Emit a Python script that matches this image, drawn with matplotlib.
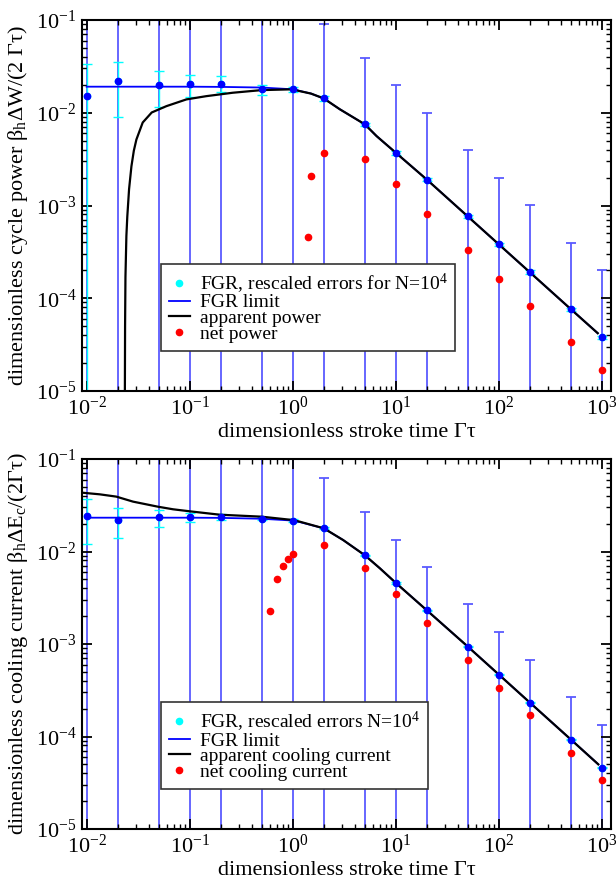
import numpy as np
import matplotlib
matplotlib.use('Agg')
import matplotlib.pyplot as plt
from matplotlib.ticker import LogLocator

plt.rcParams['font.family'] = ['Liberation Serif', 'DejaVu Serif']
plt.rcParams['mathtext.fontset'] = 'custom'
plt.rcParams['mathtext.rm'] = 'Liberation Serif'
plt.rcParams['mathtext.it'] = 'Liberation Serif:italic'

# stroke times of the simulated points
tau = [0.01, 0.02, 0.05, 0.1, 0.2, 0.5, 1, 2, 5, 10, 20, 50, 100, 200, 500, 1000]

# ---- top panel: cycle power ----
fgr_power = [0.0151, 0.0219, 0.0199, 0.0202, 0.0206, 0.0179, 0.0179, 0.01425, 0.00748, 0.0037,
             0.0019, 0.000765, 0.00038, 0.000192, 7.6e-5, 3.78e-5]
err_power_n4 = [0.0187, 0.013, 0.0085, 0.0053, 0.004, 0.0022, 0.0012, 0.00077, 0.00032, 0.00016,
                8e-5, 3.2e-5, 1.6e-5, 8e-6, 3.2e-6, 1.6e-6]
err_power_n1 = [1.8, 1.3, 0.85, 0.53, 0.4, 0.22, 0.12, 0.077, 0.0318, 0.016,
                0.008, 0.00318, 0.00162, 0.00081, 0.00032, 0.000162]

lim_power_x = [0.01, 0.1, 0.2, 0.5, 1, 1.5, 2, 2.86, 5, 6.5, 10, 20, 50, 100, 200, 500, 908]
lim_power = [0.0191, 0.0191, 0.019, 0.0187, 0.0179, 0.0161, 0.01425, 0.0109, 0.0075, 0.0056, 0.0037,
             0.0019, 0.00076, 0.00038, 0.00019, 7.6e-5, 4.2e-5]

app_power_x = [0.02345, 0.0236, 0.0238, 0.0243, 0.0248, 0.0258, 0.0272, 0.0287, 0.0304, 0.035, 0.0428,
               0.0594, 0.0929, 0.145, 0.261, 0.497, 1.0, 1.17, 1.5, 2, 2.86, 5, 6.5, 10, 20, 50,
               100, 200, 500, 908]
app_power = [5e-6, 5e-5, 1.7e-4, 4.7e-4, 7.6e-4, 1.5e-3, 2.65e-3, 3.9e-3, 5.15e-3, 7.85e-3, 0.01007,
             0.01178, 0.01393, 0.0151, 0.01643, 0.01754, 0.0179, 0.0171, 0.0161, 0.01425, 0.0109,
             0.0075, 0.0056, 0.0037, 0.0019, 0.00076, 0.00038, 0.00019, 7.6e-5, 4.2e-5]

net_power_x = [1.4, 1.5, 2, 5, 10, 20, 50, 100, 200, 500, 1000]
net_power = [4.58e-4, 0.0021, 0.00372, 0.00318, 0.00171, 0.000813, 0.000331, 0.000162,
             8.24e-5, 3.39e-5, 1.68e-5]

# ---- bottom panel: cooling current ----
fgr_cool = [0.0244, 0.0217, 0.0234, 0.0236, 0.0237, 0.0227, 0.0216, 0.0178, 0.0091, 0.00457,
            0.00231, 0.000935, 0.000466, 0.000232, 9.25e-5, 4.6e-5]
err_cool_n4 = [0.0122, 0.0078, 0.005, 0.0026, 0.002, 0.001, 0.0007, 0.00045, 0.000178, 8.9e-5,
               4.4e-5, 1.76e-5, 8.7e-6, 4.3e-6, 1.7e-6, 8.7e-7]
err_cool_n1 = [1.22, 0.78, 0.5, 0.26, 0.2, 0.15, 0.1, 0.045, 0.0178, 0.00886,
               0.00444, 0.00176, 0.00087, 0.000434, 0.000173, 8.7e-5]

lim_cool_x = [0.01, 0.1, 0.2, 0.5, 1, 1.17, 2, 3.08, 5, 7, 10, 20, 50, 100, 200, 500, 920]
lim_cool = [0.0232, 0.0232, 0.0231, 0.0226, 0.0216, 0.0208, 0.0178, 0.0133, 0.0091, 0.00658,
            0.00457, 0.00231, 0.000935, 0.000466, 0.000232, 9.25e-5, 5.0e-5]

app_cool_x = [0.0089, 0.0134, 0.0194, 0.0282, 0.0492, 0.0689, 0.1, 0.195, 0.497, 1.0, 1.17, 2,
              3.08, 5, 7, 10, 20, 50, 100, 200, 500, 920]
app_cool = [0.0433, 0.0415, 0.0392, 0.0346, 0.0305, 0.0286, 0.0272, 0.025, 0.0238, 0.0219, 0.021,
            0.0178, 0.0133, 0.0091, 0.00658, 0.00457, 0.00231, 0.000935, 0.000466, 0.000232,
            9.25e-5, 5.0e-5]

net_cool_x = [0.6, 0.7, 0.8, 0.9, 1, 2, 5, 10, 20, 50, 100, 200, 500, 1000]
net_cool = [0.00229, 0.00505, 0.00703, 0.0083, 0.0094, 0.01175, 0.00668, 0.00344, 0.0017,
            0.00067, 0.000334, 0.000169, 6.68e-5, 3.39e-5]


def panel(ax, fgr, err_n4, err_n1, lim_x, lim_y, app_x, app_y, net_x, net_y, labels, ylabel):
    ax.set_xscale('log')
    ax.set_yscale('log')
    ax.errorbar(tau, fgr, yerr=err_n1, fmt='none', ecolor='#5a5aff', elinewidth=1.3,
                capsize=3.5, capthick=1.3, zorder=1)
    ax.errorbar(tau, fgr, yerr=err_n4, fmt='none', ecolor='cyan', elinewidth=1.0,
                capsize=3.5, capthick=1.0, zorder=2)
    h0, = ax.plot(tau, fgr, 'o', color='cyan', ms=4.5, zorder=3)
    h1, = ax.plot(lim_x, lim_y, color='blue', lw=1.3, zorder=4)
    h2, = ax.plot(app_x, app_y, color='black', lw=1.6, zorder=5)
    ax.plot(tau, fgr, 'o', color='blue', ms=4.5, zorder=6)
    h3, = ax.plot(net_x, net_y, 'o', color='red', ms=4.5, zorder=6)

    ax.set_xlim(10 ** -2.045, 10 ** 3.087)
    ax.set_ylim(1e-5, 1e-1)
    ax.xaxis.set_major_locator(LogLocator(base=10, numticks=20))
    ax.xaxis.set_minor_locator(LogLocator(base=10, subs=np.arange(2, 10), numticks=20))
    ax.tick_params(which='both', direction='in', top=True, right=True)
    ax.tick_params(which='major', length=7, width=1.3, labelsize=16, pad=4)
    ax.tick_params(which='minor', length=3.5, width=1.0)
    for s in ax.spines.values():
        s.set_linewidth(1.5)

    ax.set_xlabel(r'dimensionless stroke time $\Gamma\tau$'.replace(r'$\Gamma\tau$', 'Γτ'),
                  fontsize=16, labelpad=2)
    ax.set_ylabel(ylabel, fontsize=16, labelpad=4)

    leg = ax.legend([h0, h1, h2, h3], labels, loc='lower left', bbox_to_anchor=(0.149, 0.109),
                    borderaxespad=0, fontsize=14, fancybox=False, edgecolor='#333333',
                    framealpha=1, handlelength=1.1, handletextpad=0.5, labelspacing=-0.1,
                    borderpad=0.4, numpoints=1)
    leg.get_frame().set_linewidth(1.2)


fig = plt.figure(figsize=(6.16, 8.82), dpi=100)
ax1 = fig.add_axes([82 / 616, 1 - 391 / 882, 529 / 616, 371 / 882])
ax2 = fig.add_axes([82 / 616, 1 - 829 / 882, 529 / 616, 370 / 882])

panel(ax1, fgr_power, err_power_n4, err_power_n1, lim_power_x, lim_power,
      app_power_x, app_power, net_power_x, net_power,
      [r'FGR, rescaled errors for N=10$^4$', 'FGR limit', 'apparent power', 'net power'],
      r'dimensionless cycle power β$_\mathrm{h}$ΔW/(2 Γτ)')

panel(ax2, fgr_cool, err_cool_n4, err_cool_n1, lim_cool_x, lim_cool,
      app_cool_x, app_cool, net_cool_x, net_cool,
      [r'FGR, rescaled errors N=10$^4$', 'FGR limit', 'apparent cooling current',
       'net cooling current'],
      r'dimensionless cooling current β$_\mathrm{h}$ΔE$_\mathrm{c}$/(2Γτ)')

fig.savefig('out.png', dpi=100)
